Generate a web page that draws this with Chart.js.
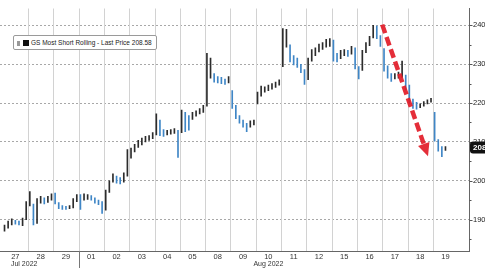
<!DOCTYPE html>
<html lang="en">
<head>
<meta charset="UTF-8">
<title>GS Most Short Rolling</title>
<script src="https://cdn.jsdelivr.net/npm/chart.js"></script>
<style>
  html, body { margin: 0; padding: 0; background: #fff; overflow: hidden; }
  #wrap { position: relative; width: 485px; height: 268px; }
  #legendBox {
    position: absolute; left: 13px; top: 35px; height: 13px;
    padding: 0 4px 0 3px; border: 1px solid #9a9a9a; border-radius: 2px;
    background: #fff; color: #222; white-space: nowrap;
    font: 6.5px "Liberation Sans", Arial, sans-serif; line-height: 13px;
  }
  .sw { display: inline-block; vertical-align: -1px; }
</style>
</head>
<body>
<div id="wrap">
  <canvas id="gsChart" width="485" height="268"></canvas>
  <div id="legendBox"><span class="sw" style="width:3px;height:5px;background:#999;margin-right:3px"></span><span class="sw" style="width:6px;height:6px;background:#111;margin-right:2px"></span>GS Most Short Rolling - Last Price 208.58</div>
</div>
<script>
// trading days shown on the x axis
const days = ['27', '28', '29', '01', '02', '03', '04', '05', '08', '09', '10', '11', '12', '15', '16', '17', '18', '19'];
const barsPerDay = 7;

// intraday bar lows / highs, 7 bars per day (last day partial)
const lows = [
  187.0, 187.8, 188.6, 188.8, 188.6, 188.4, 190.0,
  193.5, 188.6, 189.0, 194.2, 194.0, 194.4, 195.0,
  194.0, 192.8, 192.6, 192.6, 192.8, 193.0, 194.6,
  192.6, 195.0, 195.2, 195.0, 194.2, 193.8, 191.6,
  192.4, 197.0, 199.6, 199.4, 199.2, 199.6, 201.2,
  205.8, 207.4, 208.6, 209.2, 210.0, 210.4, 210.8,
  211.8, 211.6, 211.4, 211.8, 212.0, 212.2, 206.0,
  212.4, 212.6, 213.0, 215.8, 216.6, 217.2, 217.6,
  219.2, 226.4, 225.4, 225.2, 225.0, 224.8, 225.2,
  218.6, 216.0, 214.8, 213.8, 212.6, 213.8, 214.4,
  219.8, 221.8, 222.8, 223.2, 223.6, 224.0, 224.6,
  229.4, 234.4, 230.6, 229.8, 229.2, 227.8, 224.8,
  226.0, 230.8, 232.2, 233.2, 233.8, 234.4, 234.6,
  230.8, 230.6, 231.4, 232.2, 232.0, 232.6, 228.8,
  226.2, 228.4, 233.0, 234.8, 236.8, 236.6, 234.6,
  228.2, 226.4, 225.6, 226.2, 226.4, 226.6, 223.4,
  220.0, 218.6, 218.4, 218.8, 219.2, 219.8, 220.2,
  210.2, 207.6, 206.2, 207.8
];
const highs = [
  188.6, 189.6, 190.2, 189.8, 189.6, 190.4, 194.6,
  197.2, 194.0, 195.4, 196.0, 195.6, 196.0, 196.6,
  196.8, 194.4, 193.6, 193.4, 193.6, 195.4, 196.4,
  196.4, 196.6, 196.4, 196.2, 195.6, 195.0, 194.6,
  197.6, 200.0, 201.8, 201.2, 200.8, 202.0, 208.0,
  208.4, 209.4, 210.4, 211.0, 211.4, 211.6, 212.4,
  217.2, 215.6, 213.2, 213.0, 213.2, 213.4, 213.0,
  218.2, 217.6, 216.8, 217.6, 218.0, 218.6, 219.4,
  232.8, 231.6, 227.6, 226.8, 226.6, 226.2, 226.8,
  223.2, 219.4, 216.8, 215.6, 214.8, 215.4, 215.6,
  222.8, 224.4, 224.2, 224.6, 225.0, 225.4, 226.0,
  239.2, 239.0, 235.0, 232.2, 231.6, 230.0, 228.6,
  231.6, 233.8, 234.2, 235.2, 235.6, 236.4, 236.6,
  236.2, 232.8, 233.6, 233.8, 233.6, 234.6, 234.2,
  229.4, 233.6, 235.6, 237.2, 240.0, 239.8, 237.4,
  234.0, 229.6, 227.6, 227.6, 228.0, 230.8, 227.2,
  224.6, 221.0, 220.2, 219.8, 220.4, 220.8, 221.2,
  217.6, 210.6, 208.8, 208.8
];
const lastPrice = 208.58;

const yTicks = [190, 200, 210, 220, 230, 240];
const yMinorTicks = [185, 195, 205, 215, 225, 235];
const monthLabels = ['Jul 2022', 'Aug 2022'];
const monthAt = [0.85, 10.5];   // day position of month captions
const monthBreak = 3;           // Jul | Aug boundary (day index)

// red arrow: start and tip in (day, price)
const arrowX = [15.0, 16.81];
const arrowY = [240.2, 206.3];

const DARK = '#2c2c2c';
const BLUE = '#3f86c6';

const points = lows.map((lo, i) => ({
  x: Math.floor(i / barsPerDay) + (i % barsPerDay + 0.5) / barsPerDay,
  y: [lo, highs[i]]
}));
const colors = lows.map((lo, i) => {
  if (i === 0) return DARK;
  return (lo + highs[i]) < (lows[i - 1] + highs[i - 1]) ? BLUE : DARK;
});

const extras = {
  id: 'extras',
  beforeDatasetsDraw(chart) {
    const { ctx, chartArea: a, scales: { x } } = chart;
    ctx.save();
    ctx.strokeStyle = '#d2d2d2';
    ctx.lineWidth = 1;
    for (let k = 1; k < days.length; k++) {
      const px = Math.round(x.getPixelForValue(k)) + 0.5;
      ctx.beginPath();
      ctx.moveTo(px, a.top);
      ctx.lineTo(px, a.bottom);
      ctx.stroke();
    }
    ctx.restore();
  },
  afterDraw(chart) {
    const { ctx, chartArea: a, scales: { x, y } } = chart;
    ctx.save();

    // month separator below the axis
    const mx = Math.round(x.getPixelForValue(monthBreak)) + 0.5;
    ctx.strokeStyle = '#777';
    ctx.beginPath();
    ctx.moveTo(mx, a.bottom);
    ctx.lineTo(mx, chart.height);
    ctx.stroke();

    // month captions
    ctx.fillStyle = '#333';
    ctx.font = '7px "Liberation Sans", Arial, sans-serif';
    ctx.textAlign = 'center';
    ctx.textBaseline = 'middle';
    monthLabels.forEach((m, i) => ctx.fillText(m, x.getPixelForValue(monthAt[i]), 264.5));

    // y tick marks
    ctx.strokeStyle = '#555';
    const ax = a.right + 0.5;
    yTicks.forEach(v => {
      const py = Math.round(y.getPixelForValue(v)) + 0.5;
      ctx.beginPath(); ctx.moveTo(ax, py); ctx.lineTo(ax + 3, py); ctx.stroke();
    });
    yMinorTicks.forEach(v => {
      const py = Math.round(y.getPixelForValue(v)) + 0.5;
      ctx.beginPath(); ctx.moveTo(ax, py); ctx.lineTo(ax + 2, py); ctx.stroke();
    });

    // red dashed arrow
    const x0 = x.getPixelForValue(arrowX[0]), y0 = y.getPixelForValue(arrowY[0]);
    const x1 = x.getPixelForValue(arrowX[1]), y1 = y.getPixelForValue(arrowY[1]);
    const len = Math.hypot(x1 - x0, y1 - y0);
    const ux = (x1 - x0) / len, uy = (y1 - y0) / len;
    const head = 13, half = 6;
    const bx = x1 - ux * head, by = y1 - uy * head;
    ctx.strokeStyle = 'rgba(226, 28, 40, 0.92)';
    ctx.fillStyle = 'rgba(226, 28, 40, 0.92)';
    ctx.lineWidth = 4.5;
    ctx.setLineDash([9, 4]);
    ctx.beginPath();
    ctx.moveTo(x0, y0);
    ctx.lineTo(bx, by);
    ctx.stroke();
    ctx.setLineDash([]);
    ctx.beginPath();
    ctx.moveTo(x1, y1);
    ctx.lineTo(bx - uy * half, by + ux * half);
    ctx.lineTo(bx + uy * half, by - ux * half);
    ctx.closePath();
    ctx.fill();

    // last price box
    const ly = y.getPixelForValue(lastPrice);
    ctx.fillStyle = '#111';
    ctx.beginPath();
    ctx.roundRect(a.right + 1, ly - 6, 30, 12, 3);
    ctx.fill();
    ctx.fillStyle = '#fff';
    ctx.font = 'bold 8px "Liberation Sans", Arial, sans-serif';
    ctx.textAlign = 'left';
    ctx.fillText(lastPrice.toFixed(2), a.right + 4, ly + 0.5);

    ctx.restore();
  }
};

Chart.defaults.font.family = '"Liberation Sans", Arial, sans-serif';

new Chart(document.getElementById('gsChart'), {
  type: 'bar',
  data: {
    datasets: [{
      label: 'GS Most Short Rolling',
      data: points,
      backgroundColor: colors,
      barThickness: 1
    }]
  },
  options: {
    responsive: false,
    animation: false,
    layout: { padding: 0 },
    plugins: { legend: { display: false }, tooltip: { enabled: false } },
    scales: {
      x: {
        type: 'linear',
        offset: false,
        min: -0.107,
        max: 18.43,
        afterBuildTicks: s => { s.ticks = days.map((d, i) => ({ value: i + 0.5 })); },
        afterFit: s => { s.height = 17; },
        ticks: {
          autoSkip: false,
          maxRotation: 0,
          padding: 1,
          color: '#333',
          font: { size: 7.5 },
          callback: v => days[Math.floor(v)]
        },
        grid: { display: false, drawTicks: false, tickLength: 0 },
        border: { display: true, color: '#666', width: 1 }
      },
      y: {
        position: 'right',
        min: 181.9,
        max: 244.35,
        afterBuildTicks: s => { s.ticks = yTicks.map(v => ({ value: v })); },
        afterFit: s => { s.width = 16; },
        ticks: { padding: 4, color: '#222', font: { size: 7.5 } },
        grid: { color: '#a8a8a8', lineWidth: 1, drawTicks: false },
        border: { display: true, color: '#666', width: 1, dash: [2, 2] }
      }
    }
  },
  plugins: [extras]
});
</script>
</body>
</html>
